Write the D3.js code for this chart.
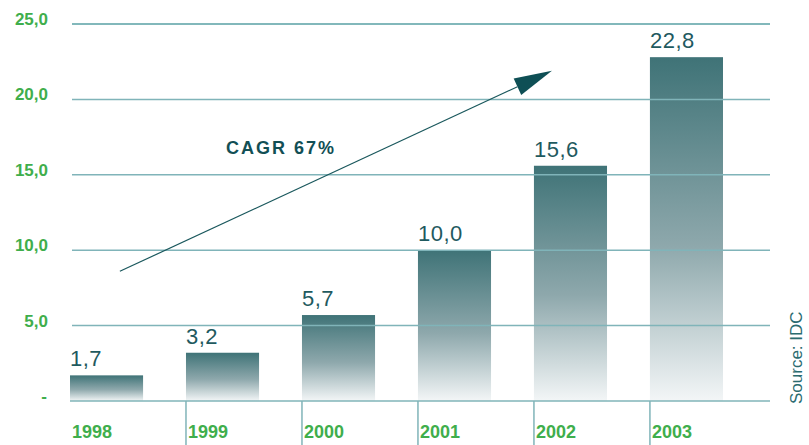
<!DOCTYPE html>
<html>
<head>
<meta charset="utf-8">
<script src="https://cdn.jsdelivr.net/npm/d3@7"></script>
<style>
  body { margin: 0; background: #fff; }
  svg { display: block; font-family: "Liberation Sans", Arial, sans-serif; }
</style>
</head>
<body>
<div id="chart"></div>
<script>
// Chart data
const years = ["1998", "1999", "2000", "2001", "2002", "2003"];
const values = [1.7, 3.2, 5.7, 10.0, 15.6, 22.8];
const yTicks = [0, 5, 10, 15, 20, 25];
const growthLabel = "CAGR 67%";
const sourceLabel = "Source: IDC";
// arrow ends: [year, fraction of step, value]
const arrowFrom = ["1998", 0.43, 8.6];
const arrowTo = ["2002", 0.155, 21.9];

const width = 809, height = 445;

const svg = d3.select("#chart")
    .append("svg")
    .attr("width", width)
    .attr("height", height);

const x = d3.scaleBand()
    .domain(years)
    .range([70, 723])
    .paddingInner(0.37)
    .paddingOuter(0);

const y = d3.scaleLinear()
    .domain([0, 25])
    .range([401, 24]);

const fmt = v => v === 0 ? "-" : d3.format(".1f")(v).replace(".", ",");

// gradient for bars
const grad = svg.append("defs").append("linearGradient")
    .attr("id", "barGrad")
    .attr("x1", 0).attr("y1", 0).attr("x2", 0).attr("y2", 1);
grad.append("stop").attr("offset", "0%").attr("stop-color", "#3f7377");
grad.append("stop").attr("offset", "55%").attr("stop-color", "#8ea8ac");
grad.append("stop").attr("offset", "100%").attr("stop-color", "#f3f6f7");

const data = years.map((yr, i) => ({ year: yr, value: values[i] }));

// Bars
svg.selectAll("rect.bar")
    .data(data)
    .join("rect")
    .attr("class", "bar")
    .attr("x", d => x(d.year))
    .attr("y", d => y(d.value))
    .attr("width", x.bandwidth())
    .attr("height", d => y(0) - y(d.value))
    .attr("fill", "url(#barGrad)");

// Gridlines drawn over the bars
svg.selectAll("line.grid")
    .data(yTicks)
    .join("line")
    .attr("class", "grid")
    .attr("x1", d => d === 0 ? 70 : 72)
    .attr("x2", 770)
    .attr("y1", d => y(d))
    .attr("y2", d => y(d))
    .attr("stroke", d => d === 25 ? "#58a0a5" : "#80b4b9")
    .attr("stroke-width", 1.5);

// Y labels
svg.selectAll("text.ylab")
    .data(yTicks)
    .join("text")
    .attr("class", "ylab")
    .attr("x", d => d === 0 ? 47 : 48)
    .attr("y", d => y(d) + 1)
    .attr("text-anchor", "end")
    .attr("font-size", 17)
    .attr("font-weight", "bold")
    .attr("fill", "#3fae4c")
    .text(fmt);

// Separators under axis
svg.selectAll("line.sep")
    .data(years.slice(1))
    .join("line")
    .attr("class", "sep")
    .attr("x1", d => x(d))
    .attr("x2", d => x(d))
    .attr("y1", y(0))
    .attr("y2", height)
    .attr("stroke", "#80b4b9")
    .attr("stroke-width", 1.5);

// Year labels
svg.selectAll("text.xlab")
    .data(years)
    .join("text")
    .attr("class", "xlab")
    .attr("x", d => x(d) + 2)
    .attr("y", 438)
    .attr("font-size", 18)
    .attr("font-weight", "bold")
    .attr("fill", "#3fae4c")
    .text(d => d);

// Value labels
svg.selectAll("text.val")
    .data(data)
    .join("text")
    .attr("class", "val")
    .attr("x", d => x(d.year))
    .attr("y", d => y(d.value) - 9)
    .attr("font-size", 22)
    .attr("letter-spacing", 0.5)
    .attr("fill", "#1f5a5f")
    .text(d => fmt(d.value));

// Growth arrow
const px = a => x(a[0]) + a[1] * x.step();
const x0 = px(arrowFrom), y0 = y(arrowFrom[2]);
const x1 = px(arrowTo), y1 = y(arrowTo[2]);
const ang = Math.atan2(y1 - y0, x1 - x0);
const headLen = 38, headW = 9;
const bx = x1 - headLen * Math.cos(ang), by = y1 - headLen * Math.sin(ang);

svg.append("line")
    .attr("x1", x0).attr("y1", y0)
    .attr("x2", bx).attr("y2", by)
    .attr("stroke", "#1a585d")
    .attr("stroke-width", 1.2);

svg.append("path")
    .attr("d", d3.line()([
        [x1, y1],
        [bx + headW * Math.sin(ang), by - headW * Math.cos(ang)],
        [bx - headW * Math.sin(ang), by + headW * Math.cos(ang)]
    ]) + "Z")
    .attr("fill", "#0e4f55");

svg.append("text")
    .attr("x", 226)
    .attr("y", 154)
    .attr("font-size", 18)
    .attr("font-weight", "bold")
    .attr("letter-spacing", 2)
    .attr("fill", "#124f55")
    .text(growthLabel);

// Source
svg.append("text")
    .attr("transform", "translate(802,404) rotate(-90)")
    .attr("font-size", 17)
    .attr("fill", "#2b6b6f")
    .text(sourceLabel);
</script>
</body>
</html>
